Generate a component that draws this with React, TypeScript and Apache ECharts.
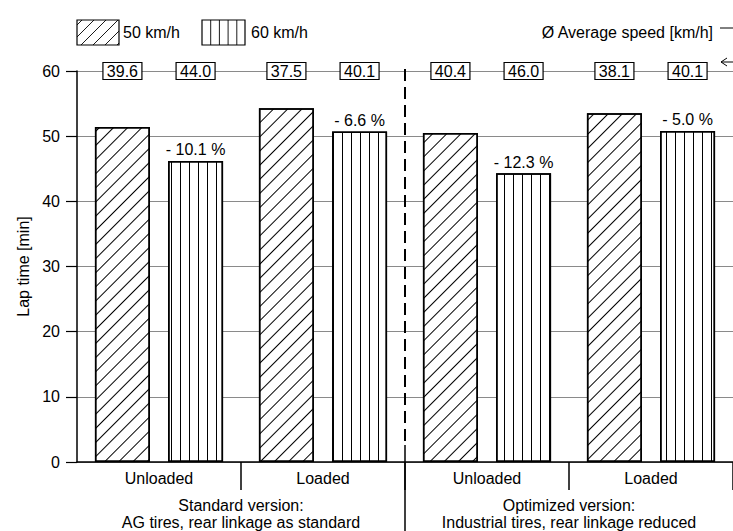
import React, { useEffect, useRef } from "react";
import * as echarts from "echarts";

// ---------- data ----------
const categories = ["Unloaded", "Loaded", "Unloaded", "Loaded"];
const groupTitles = ["Standard version:", "Optimized version:"];
const groupSubtitles = [
  "AG tires, rear linkage as standard",
  "Industrial tires, rear linkage reduced",
];
const seriesNames = ["50 km/h", "60 km/h"];
const lapTime50 = [51.4, 54.3, 50.5, 53.5];
const lapTime60 = [46.2, 50.7, 44.3, 50.8];
const reductionLabels = ["- 10.1 %", "- 6.6 %", "- 12.3 %", "- 5.0 %"];
const avgSpeed50 = [39.6, 37.5, 40.4, 38.1];
const avgSpeed60 = [44.0, 40.1, 46.0, 40.1];
const speedLegend = "Ø Average speed [km/h]";
const yAxisName = "Lap time [min]";
const yMin = 0;
const yMax = 60;
const yInterval = 10;
const speedRowLevel = 60;

// ---------- style constants ----------
const FONT = "'Liberation Sans', Arial, Helvetica, sans-serif";
const FS = 16;
const BAR_WIDTH = 55;
const BAR_GAP = 0.33;
const BOX_W = 39;
const BOX_H = 17;

function diagLines(x: number, y: number, w: number, h: number, step: number) {
  const out: any[] = [];
  for (let k = -h + 5; k < w; k += step) {
    const u0 = Math.max(k, 0);
    const u1 = Math.min(w, h + k);
    if (u1 <= u0) continue;
    const v0 = u0 - k;
    const v1 = u1 - k;
    out.push({
      type: "line",
      shape: { x1: x + u0, y1: y + h - v0, x2: x + u1, y2: y + h - v1 },
      style: { stroke: "#000", lineWidth: 0.9 },
    });
  }
  return out;
}

function vertLines(x: number, y: number, w: number, h: number, step: number) {
  const out: any[] = [];
  for (let u = step; u < w - 1; u += step) {
    out.push({
      type: "line",
      shape: { x1: x + u, y1: y, x2: x + u, y2: y + h },
      style: { stroke: "#000", lineWidth: 0.9 },
    });
  }
  return out;
}

export default function App() {
  const ref = useRef<HTMLDivElement>(null);

  useEffect(() => {
    if (!ref.current) return;
    const chart = echarts.init(ref.current, undefined, { renderer: "svg" });

    const speedData: any[] = [];
    categories.forEach((_, i) => {
      speedData.push([i, speedRowLevel, 0, avgSpeed50[i]]);
      speedData.push([i, speedRowLevel, 1, avgSpeed60[i]]);
    });

    const option: any = {
      animation: false,
      backgroundColor: "#fff",
      textStyle: { fontFamily: FONT },
      grid: { left: 77, top: 71, width: 663, height: 391, containLabel: false },
      xAxis: {
        type: "category",
        data: categories,
        boundaryGap: true,
        axisLine: { lineStyle: { color: "#000", width: 1.5 } },
        axisTick: {
          show: true,
          length: 28,
          interval: (i: number) => i !== 0,
          lineStyle: { color: "#000", width: 1.5 },
        },
        axisLabel: { color: "#000", fontSize: FS, fontFamily: FONT, margin: 8 },
        splitLine: { show: false },
      },
      yAxis: {
        type: "value",
        min: yMin,
        max: yMax,
        interval: yInterval,
        name: yAxisName,
        nameLocation: "middle",
        nameGap: 38,
        nameTextStyle: { color: "#000", fontSize: FS, fontFamily: FONT },
        axisLine: { show: true, lineStyle: { color: "#000", width: 1.5 } },
        axisTick: { show: true, length: 11, lineStyle: { color: "#000", width: 1.2 } },
        axisLabel: { color: "#000", fontSize: FS, fontFamily: FONT, margin: 17 },
        splitLine: { show: true, lineStyle: { color: "#8a8a8a", width: 1 } },
      },
      series: [
        {
          name: seriesNames[0],
          type: "bar",
          data: lapTime50,
          barWidth: BAR_WIDTH,
          barGap: BAR_GAP * 100 + "%",
          itemStyle: {
            color: "#fff",
            borderColor: "#000",
            borderWidth: 1.5,
            decal: {
              symbol: "rect",
              symbolSize: 1,
              dashArrayX: [1, 0],
              dashArrayY: [1, 9],
              rotation: -Math.PI / 4,
              color: "#000",
              backgroundColor: "rgba(0,0,0,0)",
            },
          },
        },
        {
          name: seriesNames[1],
          type: "bar",
          data: lapTime60,
          barWidth: BAR_WIDTH,
          barGap: BAR_GAP * 100 + "%",
          itemStyle: {
            color: "#fff",
            borderColor: "#000",
            borderWidth: 1.5,
            decal: {
              symbol: "rect",
              symbolSize: 1,
              dashArrayX: [1, 8],
              dashArrayY: [1, 0],
              rotation: 0,
              color: "#000",
              backgroundColor: "rgba(0,0,0,0)",
            },
          },
          label: {
            show: true,
            position: "top",
            distance: 3,
            color: "#000",
            fontSize: FS,
            fontFamily: FONT,
            formatter: (p: any) => reductionLabels[p.dataIndex],
          },
        },
        {
          type: "custom",
          clip: false,
          z: 5,
          data: speedData,
          encode: { x: 0, y: 1 },
          renderItem: (params: any, api: any) => {
            const cat = api.value(0);
            const which = api.value(2);
            const speed = api.value(3);
            const p = api.coord([cat, api.value(1)]);
            const off = ((which === 0 ? -1 : 1) * BAR_WIDTH * (1 + BAR_GAP)) / 2;
            const cx = p[0] + off;
            return {
              type: "group",
              children: [
                {
                  type: "rect",
                  shape: { x: cx - BOX_W / 2, y: p[1] - BOX_H / 2, width: BOX_W, height: BOX_H },
                  style: { fill: "#fff", stroke: "#000", lineWidth: 1.2 },
                },
                {
                  type: "text",
                  x: cx,
                  y: p[1] + 0.5,
                  style: {
                    text: Number(speed).toFixed(1),
                    fill: "#000",
                    fontSize: FS,
                    fontFamily: FONT,
                    align: "center",
                    verticalAlign: "middle",
                  },
                },
              ],
            };
          },
        },
      ],
    };

    chart.setOption(option);

    // decorations computed from the axes
    const px = (i: number) => chart.convertToPixel({ xAxisIndex: 0 }, i) as number;
    const py = (v: number) => chart.convertToPixel({ yAxisIndex: 0 }, v) as number;
    const y0 = py(yMin);
    const yTop = py(yMax);
    const divider = (px(1) + px(2)) / 2;
    const groupCenters = [(px(0) + px(1)) / 2, (px(2) + px(3)) / 2];

    const graphics: any[] = [
      {
        type: "line",
        shape: { x1: divider, y1: yTop - 2, x2: divider, y2: y0 - 17 },
        style: { stroke: "#000", lineWidth: 2, lineDash: [12, 6] },
        z: 10,
      },
      {
        type: "line",
        shape: { x1: divider, y1: y0 - 17, x2: divider, y2: 531 },
        style: { stroke: "#000", lineWidth: 1.5 },
        z: 10,
      },
    ];
    groupCenters.forEach((gx, g) => {
      graphics.push({
        type: "text",
        x: gx,
        y: 505,
        style: {
          text: groupTitles[g],
          fill: "#000",
          fontSize: FS,
          fontFamily: FONT,
          align: "center",
          verticalAlign: "middle",
        },
      });
      graphics.push({
        type: "text",
        x: gx,
        y: 522,
        style: {
          text: groupSubtitles[g],
          fill: "#000",
          fontSize: FS,
          fontFamily: FONT,
          align: "center",
          verticalAlign: "middle",
        },
      });
    });

    // legend
    const lb = { x: 77, y: 20, w: 42, h: 25 };
    const lb2 = { x: 202, y: 20, w: 43, h: 25 };
    graphics.push({
      type: "rect",
      shape: { x: lb.x, y: lb.y, width: lb.w, height: lb.h },
      style: { fill: "#fff", stroke: "#000", lineWidth: 1.2 },
    });
    diagLines(lb.x, lb.y, lb.w, lb.h, 12).forEach((l) => graphics.push(l));
    graphics.push({
      type: "rect",
      shape: { x: lb2.x, y: lb2.y, width: lb2.w, height: lb2.h },
      style: { fill: "#fff", stroke: "#000", lineWidth: 1.2 },
    });
    vertLines(lb2.x, lb2.y, lb2.w, lb2.h, 8.7).forEach((l) => graphics.push(l));
    graphics.push({
      type: "text",
      x: lb.x + lb.w + 4,
      y: 32,
      style: { text: seriesNames[0], fill: "#000", fontSize: FS, fontFamily: FONT, align: "left", verticalAlign: "middle" },
    });
    graphics.push({
      type: "text",
      x: lb2.x + lb2.w + 6,
      y: 32,
      style: { text: seriesNames[1], fill: "#000", fontSize: FS, fontFamily: FONT, align: "left", verticalAlign: "middle" },
    });
    graphics.push({
      type: "text",
      x: 713,
      y: 32,
      style: { text: speedLegend, fill: "#000", fontSize: FS, fontFamily: FONT, align: "right", verticalAlign: "middle" },
    });
    graphics.push({
      type: "line",
      shape: { x1: 720, y1: 28, x2: 733, y2: 28 },
      style: { stroke: "#000", lineWidth: 1 },
    });
    graphics.push({
      type: "polyline",
      shape: { points: [[733, yTop - 9], [721, yTop - 9]] },
      style: { stroke: "#000", lineWidth: 1, fill: null },
    });
    graphics.push({
      type: "polyline",
      shape: { points: [[727, yTop - 13], [721, yTop - 9], [727, yTop - 5]] },
      style: { stroke: "#000", lineWidth: 1, fill: null },
    });

    chart.setOption({ graphic: graphics });

    return () => chart.dispose();
  }, []);

  return (
    <div
      ref={ref}
      style={{ position: "fixed", left: 0, top: 0, width: 733, height: 531, background: "#fff" }}
    />
  );
}
